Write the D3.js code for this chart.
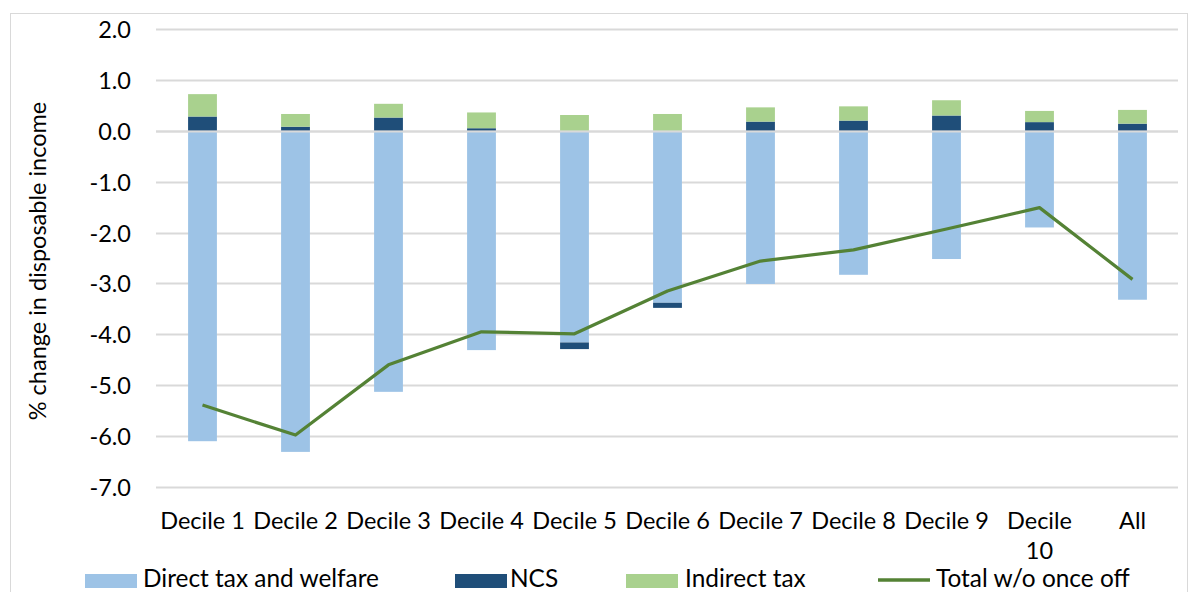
<!DOCTYPE html>
<html><head><meta charset="utf-8">
<script src="https://cdn.jsdelivr.net/npm/d3@7"></script>
<style>
html,body{margin:0;padding:0;background:#fff;}
svg{display:block;font-family:Lato, "Open Sans", sans-serif;}
</style></head>
<body><svg id="c" width="1194" height="592"></svg>
<script>
const categories = ["Decile 1","Decile 2","Decile 3","Decile 4","Decile 5","Decile 6","Decile 7","Decile 8","Decile 9","Decile 10","All"];
const directTax = [-6.10,-6.31,-5.13,-4.31,-4.16,-3.38,-3.01,-2.83,-2.52,-1.90,-3.32];
const ncs = [0.28,0.08,0.26,0.05,-0.13,-0.10,0.18,0.20,0.30,0.17,0.14];
const indirectTax = [0.44,0.25,0.27,0.31,0.31,0.33,0.28,0.28,0.30,0.22,0.27];
const totalLine = [-5.39,-5.98,-4.60,-3.95,-3.99,-3.15,-2.56,-2.34,-1.93,-1.51,-2.92];
const yTicks = [2,1,0,-1,-2,-3,-4,-5,-6,-7];
const seriesNames = ["Direct tax and welfare","NCS","Indirect tax","Total w/o once off"];
const colors = ["#9DC3E6","#1F4E79","#A9D18E","#548235"];

const svg = d3.select("#c");
const FS = 23.5;
const plot = {left:156, right:1179, top:29, bottom:487};

svg.append("rect").attr("x",10.5).attr("y",13.5).attr("width",1177).attr("height",620)
  .attr("fill","#fff").attr("stroke","#D9D9D9").attr("stroke-width",1);

const x = d3.scaleBand().domain(categories).range([plot.left, plot.right]).paddingInner(0.69).paddingOuter(0.345);
const y = d3.scaleLinear().domain([-7,2]).range([plot.bottom, plot.top]);

// gridlines
svg.append("g").selectAll("line").data(yTicks).join("line")
  .attr("x1",plot.left).attr("x2",plot.right-1)
  .attr("y1",d=>Math.round(y(d))+0.5).attr("y2",d=>Math.round(y(d))+0.5)
  .attr("stroke","#D9D9D9").attr("stroke-width",2);

// y axis labels
const fmt = d=>d3.format(".1f")(d).replace("\u2212","-");
const yAxis = d3.axisLeft(y).tickValues(yTicks).tickFormat(fmt).tickSize(0).tickPadding(0);
const ya = svg.append("g").attr("transform",`translate(131,0)`).call(yAxis);
ya.select(".domain").remove();
ya.selectAll("text").attr("font-size",FS).attr("fill","#000").attr("font-family","Lato, sans-serif").attr("dy","0.36em");

// stack
const rows = categories.map((c,i)=>({cat:c, direct:directTax[i], ncs:ncs[i], indirect:indirectTax[i]}));
const stack = d3.stack().keys(["direct","ncs","indirect"]).offset(d3.stackOffsetDiverging);
const stacked = stack(rows);
svg.append("g").selectAll("g").data(stacked).join("g")
  .attr("fill",(d,i)=>colors[i])
  .selectAll("rect").data(d=>d).join("rect")
  .attr("x",d=>x(d.data.cat))
  .attr("width",x.bandwidth())
  .attr("y",d=>y(Math.max(d[0],d[1])))
  .attr("height",d=>Math.abs(y(d[0])-y(d[1])));

// zero line over bars
svg.append("line").attr("x1",plot.left).attr("x2",plot.right-1)
  .attr("y1",Math.round(y(0))+0.5).attr("y2",Math.round(y(0))+0.5)
  .attr("stroke","#D9D9D9").attr("stroke-width",2);

// line
const line = d3.line().x((d,i)=>x(categories[i])+x.bandwidth()/2).y(d=>y(d));
svg.append("path").datum(totalLine).attr("d",line)
  .attr("fill","none").attr("stroke",colors[3]).attr("stroke-width",3.2).attr("stroke-linejoin","round");

// x labels
const xl = svg.append("g");
categories.forEach(c=>{
  const cx = x(c)+x.bandwidth()/2;
  const parts = c==="Decile 10" ? ["Decile","10"] : [c];
  parts.forEach((p,j)=>{
    xl.append("text").attr("x",cx).attr("y",529+j*30).attr("text-anchor","middle")
      .attr("font-size",FS).attr("fill","#000").text(p);
  });
});

// y title
svg.append("text").attr("transform","translate(46,261) rotate(-90)").attr("text-anchor","middle")
  .attr("font-size",FS).attr("fill","#000").text("% change in disposable income");

// legend
const legendItems = [
  {name:seriesNames[0], sx:85, tx:143, type:"rect", c:colors[0]},
  {name:seriesNames[1], sx:455, tx:510, type:"rect", c:colors[1]},
  {name:seriesNames[2], sx:626, tx:685, type:"rect", c:colors[2]},
  {name:seriesNames[3], sx:878, tx:936, type:"line", c:colors[3]}
];
const lg = svg.append("g");
legendItems.forEach(it=>{
  if(it.type==="rect"){
    lg.append("rect").attr("x",it.sx).attr("y",574).attr("width",52).attr("height",14).attr("fill",it.c);
  } else {
    lg.append("line").attr("x1",it.sx).attr("x2",it.sx+52).attr("y1",580).attr("y2",580).attr("stroke",it.c).attr("stroke-width",3.5);
  }
  lg.append("text").attr("x",it.tx).attr("y",587).attr("font-size",24.4).attr("fill","#000").text(it.name);
});
</script></body></html>
